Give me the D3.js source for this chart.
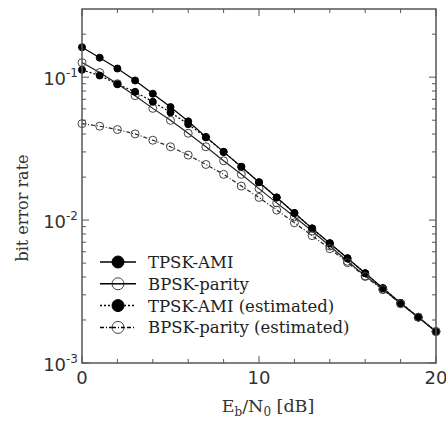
<!DOCTYPE html>
<html>
<head>
<meta charset="utf-8">
<script src="https://cdn.jsdelivr.net/npm/d3@7"></script>
<style>
  body { margin: 0; background: #fff; }
  svg { display: block; }
</style>
</head>
<body>
<div id="chart"></div>
<script>
var ebno = d3.range(0, 21);

var tpskAmi = [0.162, 0.137, 0.115, 0.0948, 0.0766, 0.0618, 0.0491, 0.0382, 0.0300, 0.0236,
	0.0184, 0.0144, 0.0112, 0.00875, 0.00689, 0.00541, 0.00425, 0.00334, 0.00263, 0.00209, 0.00166];
var bpskParity = [0.1265, 0.1077, 0.090, 0.0742, 0.0605, 0.0499, 0.0405, 0.0326, 0.0260, 0.0209,
	0.0166, 0.0132, 0.01055, 0.00838, 0.00659, 0.00515, 0.00407, 0.00329, 0.00261, 0.00209, 0.00166];
var tpskAmiEst = [0.1125, 0.1027, 0.0894, 0.0790, 0.0673, 0.0567, 0.0469, 0.0379, 0.0300, 0.0236,
	0.0184, 0.0144, 0.0112, 0.00875, 0.00689, 0.00541, 0.00425, 0.00334, 0.00263, 0.00209, 0.00166];
var bpskParityEst = [0.0473, 0.0454, 0.0430, 0.0401, 0.0362, 0.0326, 0.0285, 0.0245, 0.0209, 0.0173,
	0.0144, 0.01175, 0.00958, 0.00778, 0.00631, 0.00504, 0.00403, 0.00326, 0.0026, 0.00209, 0.00166];

var series = [
	{ label: "TPSK-AMI", values: tpskAmi, filled: true, dash: null },
	{ label: "BPSK-parity", values: bpskParity, filled: false, dash: null },
	{ label: "TPSK-AMI (estimated)", values: tpskAmiEst, filled: true, dash: "2,2" },
	{ label: "BPSK-parity (estimated)", values: bpskParityEst, filled: false, dash: "4,2,1,2" }
];

var xTicks = [0, 10, 20];
var yTicks = [1e-3, 1e-2, 1e-1];
var yTickExp = ["-3", "-2", "-1"];

var plotLeft = 82, plotRight = 436, plotTop = 9, plotBottom = 363;
var serif = "'DejaVu Serif', serif";
var sans = "'DejaVu Sans', sans-serif";

var svg = d3.select("#chart").append("svg")
	.attr("width", 446)
	.attr("height", 421);

var xScale = d3.scaleLinear().domain([0, 20]).range([plotLeft, plotRight]);
var yScale = d3.scaleLog().domain([1e-3, 0.3]).range([plotBottom, plotTop]);

// minor ticks
var xMinor = d3.range(2, 20, 2).filter(d => d !== 10);
var yMinor = [];
[1e-3, 1e-2, 1e-1].forEach(function (dec) {
	for (var k = 2; k <= 9; k++) {
		if (dec * k <= 0.3) yMinor.push(dec * k);
	}
});

var axisColor = "#555";
var ticks = svg.append("g").attr("stroke", axisColor).attr("stroke-width", 1);

function tickX(d, len) {
	ticks.append("line").attr("x1", xScale(d)).attr("x2", xScale(d)).attr("y1", plotBottom).attr("y2", plotBottom - len);
	ticks.append("line").attr("x1", xScale(d)).attr("x2", xScale(d)).attr("y1", plotTop).attr("y2", plotTop + len);
}
function tickY(d, len) {
	ticks.append("line").attr("x1", plotLeft).attr("x2", plotLeft + len).attr("y1", yScale(d)).attr("y2", yScale(d));
	ticks.append("line").attr("x1", plotRight).attr("x2", plotRight - len).attr("y1", yScale(d)).attr("y2", yScale(d));
}
xMinor.forEach(d => tickX(d, 4));
xTicks.forEach(d => tickX(d, 7));
yMinor.forEach(d => tickY(d, 4));
yTicks.forEach(d => tickY(d, 7));

// curves
var line = d3.line()
	.x((d, i) => xScale(ebno[i]))
	.y(d => yScale(d));

series.forEach(function (s) {
	svg.append("path")
		.datum(s.values)
		.attr("fill", "none")
		.attr("stroke", s.filled ? "#000" : "#222")
		.attr("stroke-width", 1.2)
		.attr("stroke-dasharray", s.dash)
		.attr("d", line);
});
series.forEach(function (s) {
	svg.append("g").selectAll("circle")
		.data(s.values)
		.enter().append("circle")
		.attr("cx", (d, i) => xScale(ebno[i]))
		.attr("cy", d => yScale(d))
		.attr("r", s.filled ? 3.5 : 4)
		.attr("fill", s.filled ? "#000" : "none")
		.attr("stroke", s.filled ? "#000" : "#444")
		.attr("stroke-width", 1);
});

// frame
svg.append("rect")
	.attr("x", plotLeft).attr("y", plotTop)
	.attr("width", plotRight - plotLeft).attr("height", plotBottom - plotTop)
	.attr("fill", "none")
	.attr("stroke", axisColor)
	.attr("stroke-width", 1.5);

// tick labels
xTicks.forEach(function (d) {
	svg.append("text")
		.attr("x", xScale(d)).attr("y", plotBottom + 21)
		.attr("text-anchor", "middle")
		.attr("font-family", sans).attr("font-size", 18)
		.attr("fill", "#333")
		.text(d);
});
yTicks.forEach(function (d, i) {
	var t = svg.append("text")
		.attr("x", plotLeft - 4).attr("y", yScale(d) + 8)
		.attr("text-anchor", "end")
		.attr("font-family", sans).attr("font-size", 18)
		.attr("fill", "#333");
	t.append("tspan").text("10");
	t.append("tspan").attr("dy", -8).attr("font-size", 12).text(yTickExp[i]);
});

// axis titles
var xt = svg.append("text")
	.attr("x", (plotLeft + plotRight) / 2 + 9).attr("y", 412)
	.attr("text-anchor", "middle")
	.attr("font-family", serif).attr("font-size", 17.5)
	.attr("fill", "#333");
xt.append("tspan").text("E");
xt.append("tspan").attr("dy", 4).attr("font-size", 12).text("b");
xt.append("tspan").attr("dy", -4).text("/N");
xt.append("tspan").attr("dy", 4).attr("font-size", 12).text("0");
xt.append("tspan").attr("dy", -4).text(" [dB]");

svg.append("text")
	.attr("transform", `translate(28, ${208}) rotate(-90)`)
	.attr("text-anchor", "middle")
	.attr("font-family", serif).attr("font-size", 16)
	.attr("fill", "#333")
	.text("bit error rate");

// legend
var legend = svg.append("g");
series.forEach(function (s, i) {
	var y = 262 + i * 21.8;
	legend.append("line")
		.attr("x1", 100).attr("x2", 136)
		.attr("y1", y).attr("y2", y)
		.attr("stroke", "#000").attr("stroke-width", 1.5)
		.attr("stroke-dasharray", s.dash);
	legend.append("circle")
		.attr("cx", 118).attr("cy", y)
		.attr("r", 6)
		.attr("fill", s.filled ? "#000" : "#fff")
		.attr("stroke", s.filled ? "#000" : "#444")
		.attr("stroke-width", 1);
	if (!s.filled) {
		legend.append("line")
			.attr("x1", 112).attr("x2", 124)
			.attr("y1", y).attr("y2", y)
			.attr("stroke", "#000").attr("stroke-width", 1.5)
			.attr("stroke-dasharray", s.dash);
	}
	legend.append("text")
		.attr("x", 148).attr("y", y + 6)
		.attr("font-family", serif).attr("font-size", 16.5)
		.attr("fill", "#222")
		.text(s.label);
});
</script>
</body>
</html>
